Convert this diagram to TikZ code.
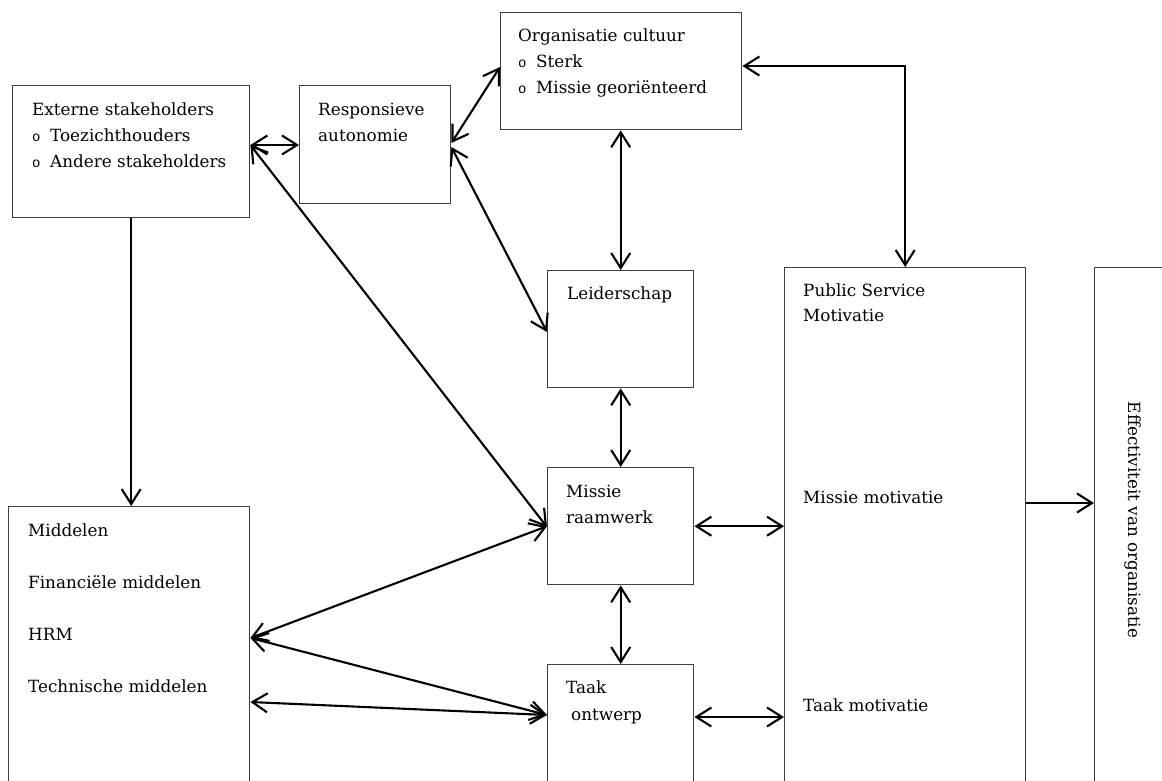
\documentclass[tikz,border=0pt]{standalone}
\usepackage{fontspec}
\setmainfont{DejaVu Serif}
\newfontfamily\bulfont{Liberation Mono}
\usetikzlibrary{arrows.meta,calc}
\newcommand{\bul}{\makebox[18pt][l]{\bulfont\fontsize{14}{14}\selectfont o}}
\tikzset{
  box/.style={draw=black!75, line width=1.4pt, rectangle, inner sep=0pt, anchor=north west},
  txt/.style={anchor=base west, inner sep=0pt, font=\fontsize{16.8}{19}\selectfont},
  barb/.tip={Straight Barb[length=15pt,width=19pt,line width=2.1pt]},
  arr/.style={line width=2.1pt, barb-barb},
  one/.style={line width=2.1pt, -barb}
}
\begin{document}
\begin{tikzpicture}[x=1pt,y=-1pt]
\clip (0,0) rectangle (1162,780);
% boxes
\node[box, minimum width=237, minimum height=132] (ext) at (12,85) {};
\node[box, minimum width=151, minimum height=118] (resp) at (299,85) {};
\node[box, minimum width=241, minimum height=117] (org) at (500,12) {};
\node[box, minimum width=146, minimum height=117] (lead) at (547,270) {};
\node[box, minimum width=146, minimum height=117] (mis) at (547,467) {};
\node[box, minimum width=146, minimum height=140] (taak) at (547,664) {};
\node[box, minimum width=241, minimum height=300] (mid) at (8,506) {};
\node[box, minimum width=241, minimum height=540] (psm) at (784,267) {};
\node[box, minimum width=120, minimum height=540] (eff) at (1094,267) {};
% texts
\node[txt] (ext1) at (32,115) {Externe stakeholders};
\node[txt] (ext2) at (32,141) {\bul Toezichthouders};
\node[txt] (ext3) at (32,167) {\bul Andere stakeholders};
\node[txt] (resp1) at (318,115) {Responsieve};
\node[txt] (resp2) at (318,141) {autonomie};
\node[txt] (org1) at (518,41) {Organisatie cultuur};
\node[txt] (org2) at (518,67) {\bul Sterk};
\node[txt] (org3) at (518,93) {\bul Missie georiënteerd};
\node[txt] (lead1) at (567,299) {Leiderschap};
\node[txt] (mis1) at (566,497) {Missie};
\node[txt] (mis2) at (566,523) {raamwerk};
\node[txt] (taak1) at (566,693) {Taak};
\node[txt] (taak2) at (571,720) {ontwerp};
\node[txt] (mid1) at (28,536) {Middelen};
\node[txt] (mid2) at (28,588) {Financiële middelen};
\node[txt] (mid3) at (28,640) {HRM};
\node[txt] (mid4) at (28,692) {Technische middelen};
\node[txt] (psm1) at (803,296) {Public Service};
\node[txt] (psm2) at (803,321) {Motivatie};
\node[txt] (psm3) at (803,503) {Missie motivatie};
\node[txt] (psm4) at (803,711) {Taak motivatie};
\node[txt, anchor=base, rotate=-90] (eff1) at (1128,520) {Effectiviteit van organisatie};
% attachment points
\coordinate (extR) at ([yshift=-60pt]ext.north east);
\coordinate (respRa) at ([yshift=-58pt]resp.north east);
\coordinate (respRb) at ([yshift=-62pt]resp.north east);
\coordinate (orgL) at ([yshift=-55pt]org.north west);
\coordinate (orgR) at ([yshift=-54pt]org.north east);
\coordinate (leadL) at ([yshift=-62pt]lead.north west);
\coordinate (taakL) at ([yshift=-51pt]taak.north west);
\coordinate (taakR) at ([yshift=-53pt]taak.north east);
\coordinate (midA) at ([yshift=-132pt]mid.north east);
\coordinate (midB) at ([yshift=-196pt]mid.north east);
\coordinate (psmR) at ([yshift=-236pt]psm.north east);
% connectors
\draw[arr] (extR) -- ([yshift=-60pt]resp.north west);
\draw[arr] (extR) -- ([yshift=-60pt]mis.north west);
\draw[arr] (respRa) -- (orgL);
\draw[arr] (respRb) -- (leadL);
\draw[arr] (lead.north |- org.south) -- (lead.north);
\draw[arr] (orgR) -| (psm.north);
\draw[arr] (lead.south) -- (mis.north);
\draw[arr] (mis.south) -- (taak.north);
\draw[arr] (mis.east) -- (mis.east -| psm.west);
\draw[arr] (taakR) -- (taakR -| psm.west);
\draw[arr] (midA) -- (mis.west);
\draw[arr] (midA) -- (taakL);
\draw[arr] (midB) -- (taakL);
\draw[one] (ext.south) -- (ext.south |- mid.north);
\draw[one] (psmR) -- (psmR -| eff.west);
\end{tikzpicture}
\end{document}
